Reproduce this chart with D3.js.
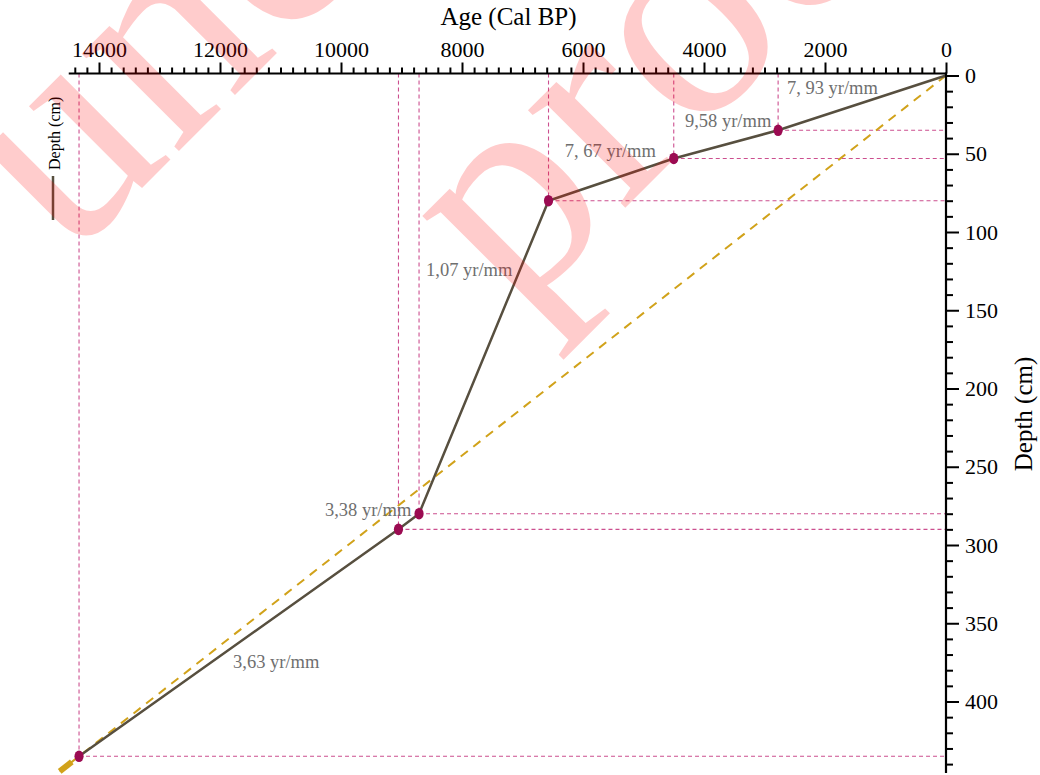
<!DOCTYPE html>
<html>
<head>
<meta charset="utf-8">
<script src="https://cdn.jsdelivr.net/npm/d3@7"></script>
<style>
  html, body { margin: 0; padding: 0; background: #fff; }
  svg { display: block; font-family: "Liberation Serif", "Times New Roman", serif; }
</style>
</head>
<body>
<svg id="chart" width="1040" height="775"></svg>
<script>
// Age-depth model: dated levels (cal BP vs depth in cm)
const ages   = [0, 2775, 4500, 6570, 8710, 9050, 14330];
const depths = [0, 35, 53, 80, 280, 290, 435];

// Accumulation rates for each segment, with anchor points (age, depth) for their labels
const rateLabels  = ["7, 93 yr/mm", "9,58 yr/mm", "7, 67 yr/mm", "1,07 yr/mm", "3,38 yr/mm", "3,63 yr/mm"];
const labelAges   = [2630, 4315, 6300, 8595, 10265, 11785];
const labelDepths = [11.8, 32.9, 52.1, 128.1, 281.5, 378.6];

// Straight reference line from the surface to the base of the core
const trendAges   = [0, 14650];
const trendDepths = [0, 444.7];

// Axis ticks
const ageTicks   = [0, 2000, 4000, 6000, 8000, 10000, 12000, 14000];
const depthTicks = [0, 50, 100, 150, 200, 250, 300, 350, 400];

const COL_LINE = "#574f3f", COL_TREND = "#d1a21a", COL_GUIDE = "#cc4f8f",
      COL_DOT = "#9b0b52", COL_RATE = "#6f6f6f";

const svg = d3.select("#chart");
const axisY = 73.5, axisX = 946;

const x = d3.scaleLinear().domain([0, 14500]).range([946, 946 - 14500 * 0.0605]);
const y = d3.scaleLinear().domain([0, 445]).range([75.5, 75.5 + 445 * 1.565]);

const pts = ages.map((a, i) => [a, depths[i]]);

// Guide lines from each dated level to both axes
const guides = svg.append("g").attr("stroke", COL_GUIDE).attr("stroke-width", 1.1)
  .attr("stroke-dasharray", "4,3").attr("fill", "none");
pts.slice(1).forEach(([a, d]) => {
  guides.append("line").attr("x1", x(a)).attr("x2", x(a)).attr("y1", axisY).attr("y2", y(d));
  guides.append("line").attr("x1", x(a)).attr("x2", axisX).attr("y1", y(d)).attr("y2", y(d));
});

// Reference line (dashed) and its end cap
const trend = trendAges.map((a, i) => [a, trendDepths[i]]);
const lineGen = d3.line().x(d => x(d[0])).y(d => y(d[1]));
svg.append("path").datum(trend).attr("d", lineGen)
  .attr("fill", "none").attr("stroke", COL_TREND).attr("stroke-width", 2)
  .attr("stroke-dasharray", "9,7");
const slope = trendDepths[1] / trendAges[1];
const capAges = [14450, trendAges[1]];
svg.append("path").datum(capAges.map(a => [a, a * slope])).attr("d", lineGen)
  .attr("fill", "none").attr("stroke", COL_TREND).attr("stroke-width", 6);

// Age-depth curve
svg.append("path").datum(pts).attr("d", lineGen)
  .attr("fill", "none").attr("stroke", COL_LINE).attr("stroke-width", 2.5)
  .attr("stroke-linejoin", "round");

// Dated levels
svg.append("g").selectAll("ellipse").data(pts.slice(1)).join("ellipse")
  .attr("cx", d => x(d[0])).attr("cy", d => y(d[1]))
  .attr("rx", 4.6).attr("ry", 5.8).attr("fill", COL_DOT);

// Rate labels
svg.append("g").selectAll("text").data(rateLabels).join("text")
  .attr("x", (d, i) => x(labelAges[i])).attr("y", (d, i) => y(labelDepths[i]))
  .attr("font-size", 18.5).attr("fill", COL_RATE).text(d => d);

// Top age axis: majors every 2000, minors every 200
const xMinor = d3.range(0, 14500, 200).filter(v => v % 2000 !== 0);
const gx = svg.append("g").attr("transform", `translate(0,${axisY})`);
gx.append("g").call(d3.axisTop(x).tickValues(xMinor).tickSize(6).tickSizeOuter(0).tickFormat(""))
  .call(g => g.select(".domain").remove());
gx.append("g").call(d3.axisTop(x).tickValues(ageTicks).tickSize(11).tickSizeOuter(0)
    .tickPadding(5.5).tickFormat(d3.format("d")))
  .call(g => g.select(".domain").remove())
  .selectAll("text").attr("font-size", 22).attr("font-family", "Liberation Serif").attr("fill", "#000");
gx.selectAll(".tick line").attr("stroke", "#000").attr("stroke-width", 2);
gx.append("line").attr("x1", x.range()[1]).attr("x2", axisX).attr("y1", 0).attr("y2", 0)
  .attr("stroke", "#000").attr("stroke-width", 2.2);

// Right depth axis: majors every 50, minors every 10
const yMinor = d3.range(0, 446, 10).filter(v => v % 50 !== 0);
const gy = svg.append("g").attr("transform", `translate(${axisX},0)`);
gy.append("g").call(d3.axisRight(y).tickValues(yMinor).tickSize(7).tickSizeOuter(0).tickFormat(""))
  .call(g => g.select(".domain").remove());
gy.append("g").call(d3.axisRight(y).tickValues(depthTicks).tickSize(13).tickSizeOuter(0)
    .tickPadding(6).tickFormat(d3.format("d")))
  .call(g => g.select(".domain").remove())
  .selectAll("text").attr("font-size", 22).attr("font-family", "Liberation Serif").attr("fill", "#000");
gy.selectAll(".tick line").attr("stroke", "#000").attr("stroke-width", 2);
gy.append("line").attr("x1", 0).attr("x2", 0).attr("y1", axisY - 1).attr("y2", 773)
  .attr("stroke", "#000").attr("stroke-width", 2.2);

// Axis titles
svg.append("text").attr("x", 508.5).attr("y", 25).attr("text-anchor", "middle")
  .attr("font-size", 25).attr("fill", "#000").text("Age (Cal BP)");
svg.append("text").attr("transform", "translate(1032,414) rotate(-90)").attr("text-anchor", "middle")
  .attr("font-size", 25).attr("fill", "#000").text("Depth (cm)");

// Legend
svg.append("line").attr("x1", 53).attr("x2", 53).attr("y1", 176).attr("y2", 220)
  .attr("stroke", COL_LINE).attr("stroke-width", 2.5);
svg.append("text").attr("transform", "translate(60,170) rotate(-90)")
  .attr("font-size", 16).attr("fill", "#000").text("Depth (cm)");

// Watermark
const wm = svg.append("g").attr("fill", "rgba(255,0,0,0.2)").attr("font-size", 300)
  .attr("font-family", "Liberation Serif");
wm.append("text").attr("transform", "translate(68,262) rotate(-45)").text("uncorrected");
wm.append("text").attr("transform", "translate(515,318) rotate(-45)").text("proof");
</script>
</body>
</html>
